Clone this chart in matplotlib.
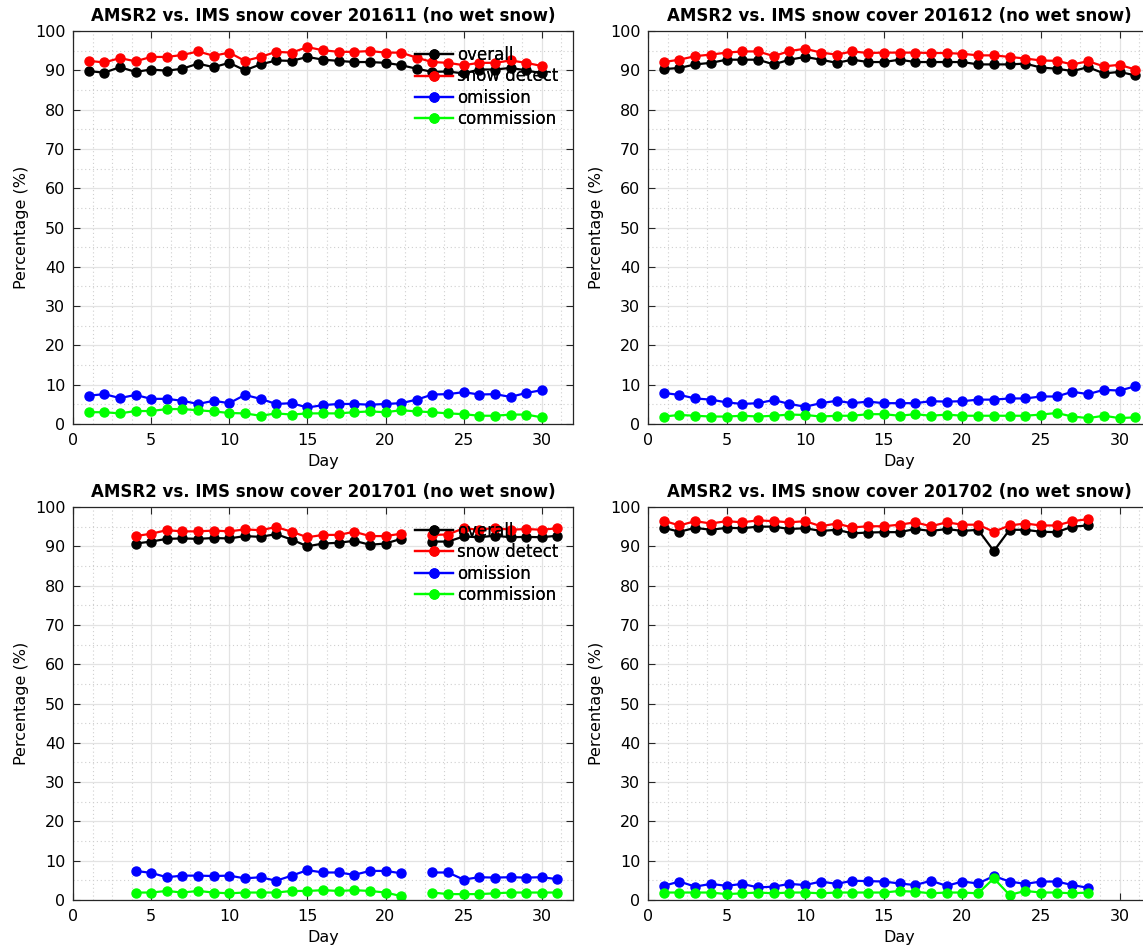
import numpy as np
import matplotlib
matplotlib.use("Agg")
import matplotlib.pyplot as plt
from matplotlib.ticker import MultipleLocator

nan = np.nan

# 201611
days_1611 = list(range(1, 31))
overall_1611 = [89.8, 89.4, 90.8, 89.6, 90.2, 89.9, 90.4, 91.7, 90.8, 91.9,
                90.0, 91.5, 92.5, 92.4, 93.4, 92.7, 92.4, 92.1, 92.1, 91.9,
                91.3, 90.4, 89.6, 89.7, 89.2, 90.2, 90.2, 90.6, 90.0, 89.2]
detect_1611 = [92.4, 92.0, 93.1, 92.3, 93.4, 93.4, 93.9, 94.8, 93.7, 94.5,
               92.4, 93.4, 94.7, 94.5, 95.9, 95.1, 94.7, 94.7, 94.9, 94.5,
               94.5, 93.2, 92.1, 91.9, 91.3, 91.9, 91.9, 92.5, 91.9, 91.1]
omission_1611 = [7.2, 7.6, 6.6, 7.4, 6.4, 6.4, 5.9, 5.1, 5.9, 5.3,
                 7.4, 6.4, 5.1, 5.3, 4.2, 4.8, 5.1, 5.1, 4.9, 5.1,
                 5.3, 6.2, 7.5, 7.6, 8.1, 7.5, 7.6, 6.9, 7.9, 8.6]
commission_1611 = [3.0, 3.0, 2.7, 3.3, 3.3, 3.8, 3.8, 3.5, 3.2, 2.8,
                   2.7, 2.1, 2.7, 2.4, 2.7, 2.7, 2.7, 3.0, 3.2, 3.0,
                   3.5, 3.2, 3.0, 2.7, 2.5, 2.1, 2.1, 2.4, 2.4, 1.7]

# 201612
days_1612 = list(range(1, 32))
overall_1612 = [90.3, 90.6, 91.5, 91.9, 92.7, 92.7, 92.7, 91.5, 92.7, 93.4,
                92.7, 91.9, 92.7, 92.1, 92.1, 92.7, 92.1, 92.1, 92.1, 92.1,
                91.5, 91.5, 91.5, 91.7, 90.7, 90.4, 89.8, 90.8, 89.2, 89.6, 88.7]
detect_1612 = [92.1, 92.7, 93.6, 94.0, 94.5, 94.8, 94.8, 93.6, 94.9, 95.5,
               94.5, 94.0, 94.8, 94.4, 94.5, 94.5, 94.5, 94.4, 94.4, 94.2,
               93.8, 93.8, 93.4, 93.0, 92.5, 92.4, 91.5, 92.3, 91.0, 91.4, 90.2]
omission_1612 = [7.9, 7.4, 6.5, 6.2, 5.5, 5.1, 5.3, 6.1, 5.1, 4.4,
                 5.3, 5.9, 5.3, 5.7, 5.3, 5.3, 5.3, 5.8, 5.7, 5.8,
                 6.2, 6.2, 6.5, 6.5, 7.0, 7.0, 8.2, 7.6, 8.7, 8.5, 9.6]
commission_1612 = [1.9, 2.3, 2.1, 1.9, 1.9, 2.1, 1.9, 2.1, 2.4, 2.3,
                   1.9, 2.1, 2.1, 2.5, 2.5, 2.1, 2.5, 2.1, 2.4, 2.1,
                   2.1, 2.1, 2.1, 2.1, 2.4, 2.8, 1.9, 1.5, 2.1, 1.5, 1.7]

# 201701 (no data days 1-3 and 22)
days_1701 = list(range(4, 32))
overall_1701 = [90.7, 91.2, 91.9, 92.0, 91.9, 92.1, 92.0, 92.6, 92.4, 93.1,
                91.7, 90.0, 90.7, 90.9, 91.4, 90.4, 90.7, 91.9, nan, 91.2,
                91.2, 92.5, 92.3, 92.7, 92.3, 92.4, 92.3, 92.7]
detect_1701 = [92.6, 93.2, 94.1, 93.8, 93.8, 94.0, 93.8, 94.3, 94.1, 94.9,
               93.7, 92.3, 92.9, 92.9, 93.7, 92.6, 92.6, 93.2, nan, 92.9,
               93.0, 94.6, 94.2, 94.7, 94.2, 94.4, 94.2, 94.6]
omission_1701 = [7.4, 6.9, 5.8, 6.2, 6.2, 6.1, 6.2, 5.5, 5.8, 4.9,
                 6.2, 7.6, 7.0, 7.0, 6.4, 7.4, 7.4, 6.8, nan, 7.0,
                 7.0, 5.2, 5.8, 5.7, 5.8, 5.7, 5.8, 5.3]
commission_1701 = [1.9, 1.9, 2.3, 1.9, 2.3, 1.9, 1.7, 1.9, 1.9, 1.9,
                   2.3, 2.3, 2.5, 2.3, 2.5, 2.3, 1.9, 1.0, nan, 1.9,
                   1.5, 1.5, 1.5, 1.7, 1.9, 1.9, 1.9, 1.9]

# 201702
days_1702 = list(range(1, 29))
overall_1702 = [94.7, 93.7, 94.7, 94.2, 94.7, 94.6, 95.0, 95.0, 94.4, 94.6,
                93.9, 94.2, 93.3, 93.5, 93.6, 93.6, 94.4, 93.9, 94.4, 93.9,
                94.2, 88.8, 94.2, 94.2, 93.7, 93.6, 95.0, 95.3]
detect_1702 = [96.5, 95.3, 96.4, 95.8, 96.4, 96.1, 96.6, 96.4, 96.1, 96.4,
               95.1, 95.8, 94.8, 95.1, 95.1, 95.5, 96.1, 95.1, 96.1, 95.5,
               95.5, 93.7, 95.3, 95.8, 95.3, 95.3, 96.4, 96.9]
omission_1702 = [3.6, 4.7, 3.4, 4.1, 3.6, 4.1, 3.2, 3.4, 4.1, 3.8,
                 4.7, 4.1, 4.9, 4.8, 4.7, 4.2, 3.8, 4.9, 3.6, 4.7,
                 4.2, 6.1, 4.7, 4.1, 4.7, 4.7, 3.8, 3.1]
commission_1702 = [1.9, 1.9, 1.9, 1.9, 1.5, 1.7, 1.9, 1.7, 1.9, 1.9,
                   1.7, 1.9, 1.9, 1.9, 1.9, 2.3, 2.1, 1.7, 1.9, 1.9,
                   1.7, 5.5, 1.3, 2.3, 1.9, 1.9, 1.7, 1.9]

months = ["201611", "201612", "201701", "201702"]
labels = ["overall", "snow detect", "omission", "commission"]
colors = ["black", "red", "blue", "#00ff00"]

panels = [
    (days_1611, [overall_1611, detect_1611, omission_1611, commission_1611]),
    (days_1612, [overall_1612, detect_1612, omission_1612, commission_1612]),
    (days_1701, [overall_1701, detect_1701, omission_1701, commission_1701]),
    (days_1702, [overall_1702, detect_1702, omission_1702, commission_1702]),
]

W, H = 1143, 951
fig = plt.figure(figsize=(W / 100, H / 100), dpi=100)

# axes boxes in pixels: left, top, width, height
boxes = [(73, 31, 500, 393), (648, 31, 503, 393),
         (73, 507, 500, 393), (648, 507, 503, 393)]

for i, (box, (days, series)) in enumerate(zip(boxes, panels)):
    l, t, w, h = box
    ax = fig.add_axes([l / W, (H - t - h) / H, w / W, h / H])
    for vals, lab, c in zip(series, labels, colors):
        ax.plot(days, vals, "-o", color=c, lw=1.6, ms=6.5, label=lab)
    ax.set_xlim(0, 32)
    ax.set_ylim(0, 100)
    ax.set_xticks(range(0, 31, 5))
    ax.set_yticks(range(0, 101, 10))
    ax.xaxis.set_minor_locator(MultipleLocator(1.25))
    ax.yaxis.set_minor_locator(MultipleLocator(5))
    ax.grid(which="major", color="#e3e3e3", lw=0.9)
    ax.grid(which="minor", color="#cfcfcf", lw=0.8, ls=(0, (1, 2.5)))
    ax.set_axisbelow(True)
    ax.tick_params(which="major", direction="in", top=True, right=True,
                   length=5, labelsize=11.5, color="#262626")
    ax.tick_params(axis="x", pad=6.5)
    ax.tick_params(axis="y", pad=5.5)
    ax.tick_params(which="minor", length=0)
    for s in ax.spines.values():
        s.set_color("#262626")
        s.set_linewidth(0.9)
    ax.set_xlabel("Day", fontsize=11.5, labelpad=4)
    ax.set_ylabel("Percentage (%)", fontsize=11.5, labelpad=4)
    ax.set_title("AMSR2 vs. IMS snow cover %s (no wet snow)" % months[i],
                 fontsize=12, fontweight="bold", pad=7)
    ax.legend(loc="upper left", bbox_to_anchor=((415 - l) / w, 1 - 15 / h),
              frameon=False, fontsize=12, handlelength=2.3,
              handletextpad=0.2, labelspacing=0.2, borderpad=0,
              borderaxespad=0)

plt.savefig("out.png", dpi=100)
